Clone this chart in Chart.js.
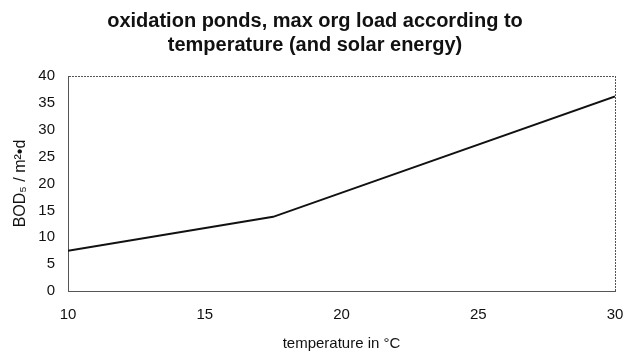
<!DOCTYPE html>
<html>
<head>
<meta charset="utf-8">
<script src="https://cdn.jsdelivr.net/npm/chart.js@4/dist/chart.umd.min.js"></script>
<style>
  html, body { margin: 0; padding: 0; background: #fff; }
  #wrap { width: 624px; height: 354px; }
</style>
</head>
<body>
<div id="wrap"><canvas id="myChart"></canvas></div>
<script>
// temperature (°C) and max organic load (BOD5 per m² and day)
const temperatures = [10, 17.5, 30];
const maxLoad = [7.5, 13.8, 36.2];
const xTicks = [10, 15, 20, 25, 30];
const yTicks = [0, 5, 10, 15, 20, 25, 30, 35, 40];

const frameColor = '#555';
const fontFamily = 'Liberation Sans, Arial, sans-serif';

// only the outer grid lines are drawn, giving the boxed frame
function edgeOnly(ticksList) {
    return function(ctx) {
        return (ctx.index === 0 || ctx.index === ticksList.length - 1) ? frameColor : 'rgba(0,0,0,0)';
    };
}

const ctx = document.getElementById('myChart').getContext('2d');

new Chart(ctx, {
    type: 'line',
    data: {
        datasets: [{
            data: temperatures.map((t, i) => ({ x: t, y: maxLoad[i] })),
            borderColor: '#111',
            borderWidth: 2,
            pointRadius: 0,
            tension: 0,
            fill: false
        }]
    },
    options: {
        responsive: true,
        maintainAspectRatio: false,
        animation: false,
        layout: { padding: { top: 4, right: 0, bottom: 1, left: 6 } },
        plugins: {
            legend: { display: false },
            tooltip: { enabled: false },
            title: {
                display: true,
                text: ['oxidation ponds, max org load according to', 'temperature (and solar energy)'],
                color: '#111',
                font: { family: fontFamily, size: 20, weight: 'bold', lineHeight: 1.2 },
                padding: { top: 5, bottom: 19 }
            }
        },
        scales: {
            x: {
                type: 'linear',
                min: 10,
                max: 30,
                afterBuildTicks: axis => { axis.ticks = xTicks.map(v => ({ value: v })); },
                // fixed axis height; let the last label hang over the right edge a bit
                afterFit: axis => { axis.height = 62; axis.paddingRight = 9; },
                grid: { color: edgeOnly(xTicks), lineWidth: 1, drawTicks: false },
                border: { display: true, color: frameColor, width: 1, dash: [2, 1] },
                ticks: {
                    color: '#111',
                    padding: 15,
                    maxRotation: 0,
                    font: { family: fontFamily, size: 15 }
                },
                title: {
                    display: true,
                    text: 'temperature in °C',
                    color: '#111',
                    font: { family: fontFamily, size: 15 },
                    padding: { top: 7, bottom: 0 }
                }
            },
            y: {
                min: 0,
                max: 40,
                afterBuildTicks: axis => { axis.ticks = yTicks.map(v => ({ value: v })); },
                afterFit: axis => { axis.width = 62; },
                grid: { color: edgeOnly(yTicks), lineWidth: 1, drawTicks: false },
                border: { display: true, color: frameColor, width: 1, dash: [2, 1] },
                ticks: {
                    color: '#111',
                    padding: 13,
                    font: { family: fontFamily, size: 15 }
                },
                title: {
                    display: true,
                    text: 'BOD₅ / m²•d',
                    color: '#111',
                    font: { family: fontFamily, size: 16 },
                    padding: { top: 5, bottom: 11 }
                }
            }
        }
    }
});
</script>
</body>
</html>
